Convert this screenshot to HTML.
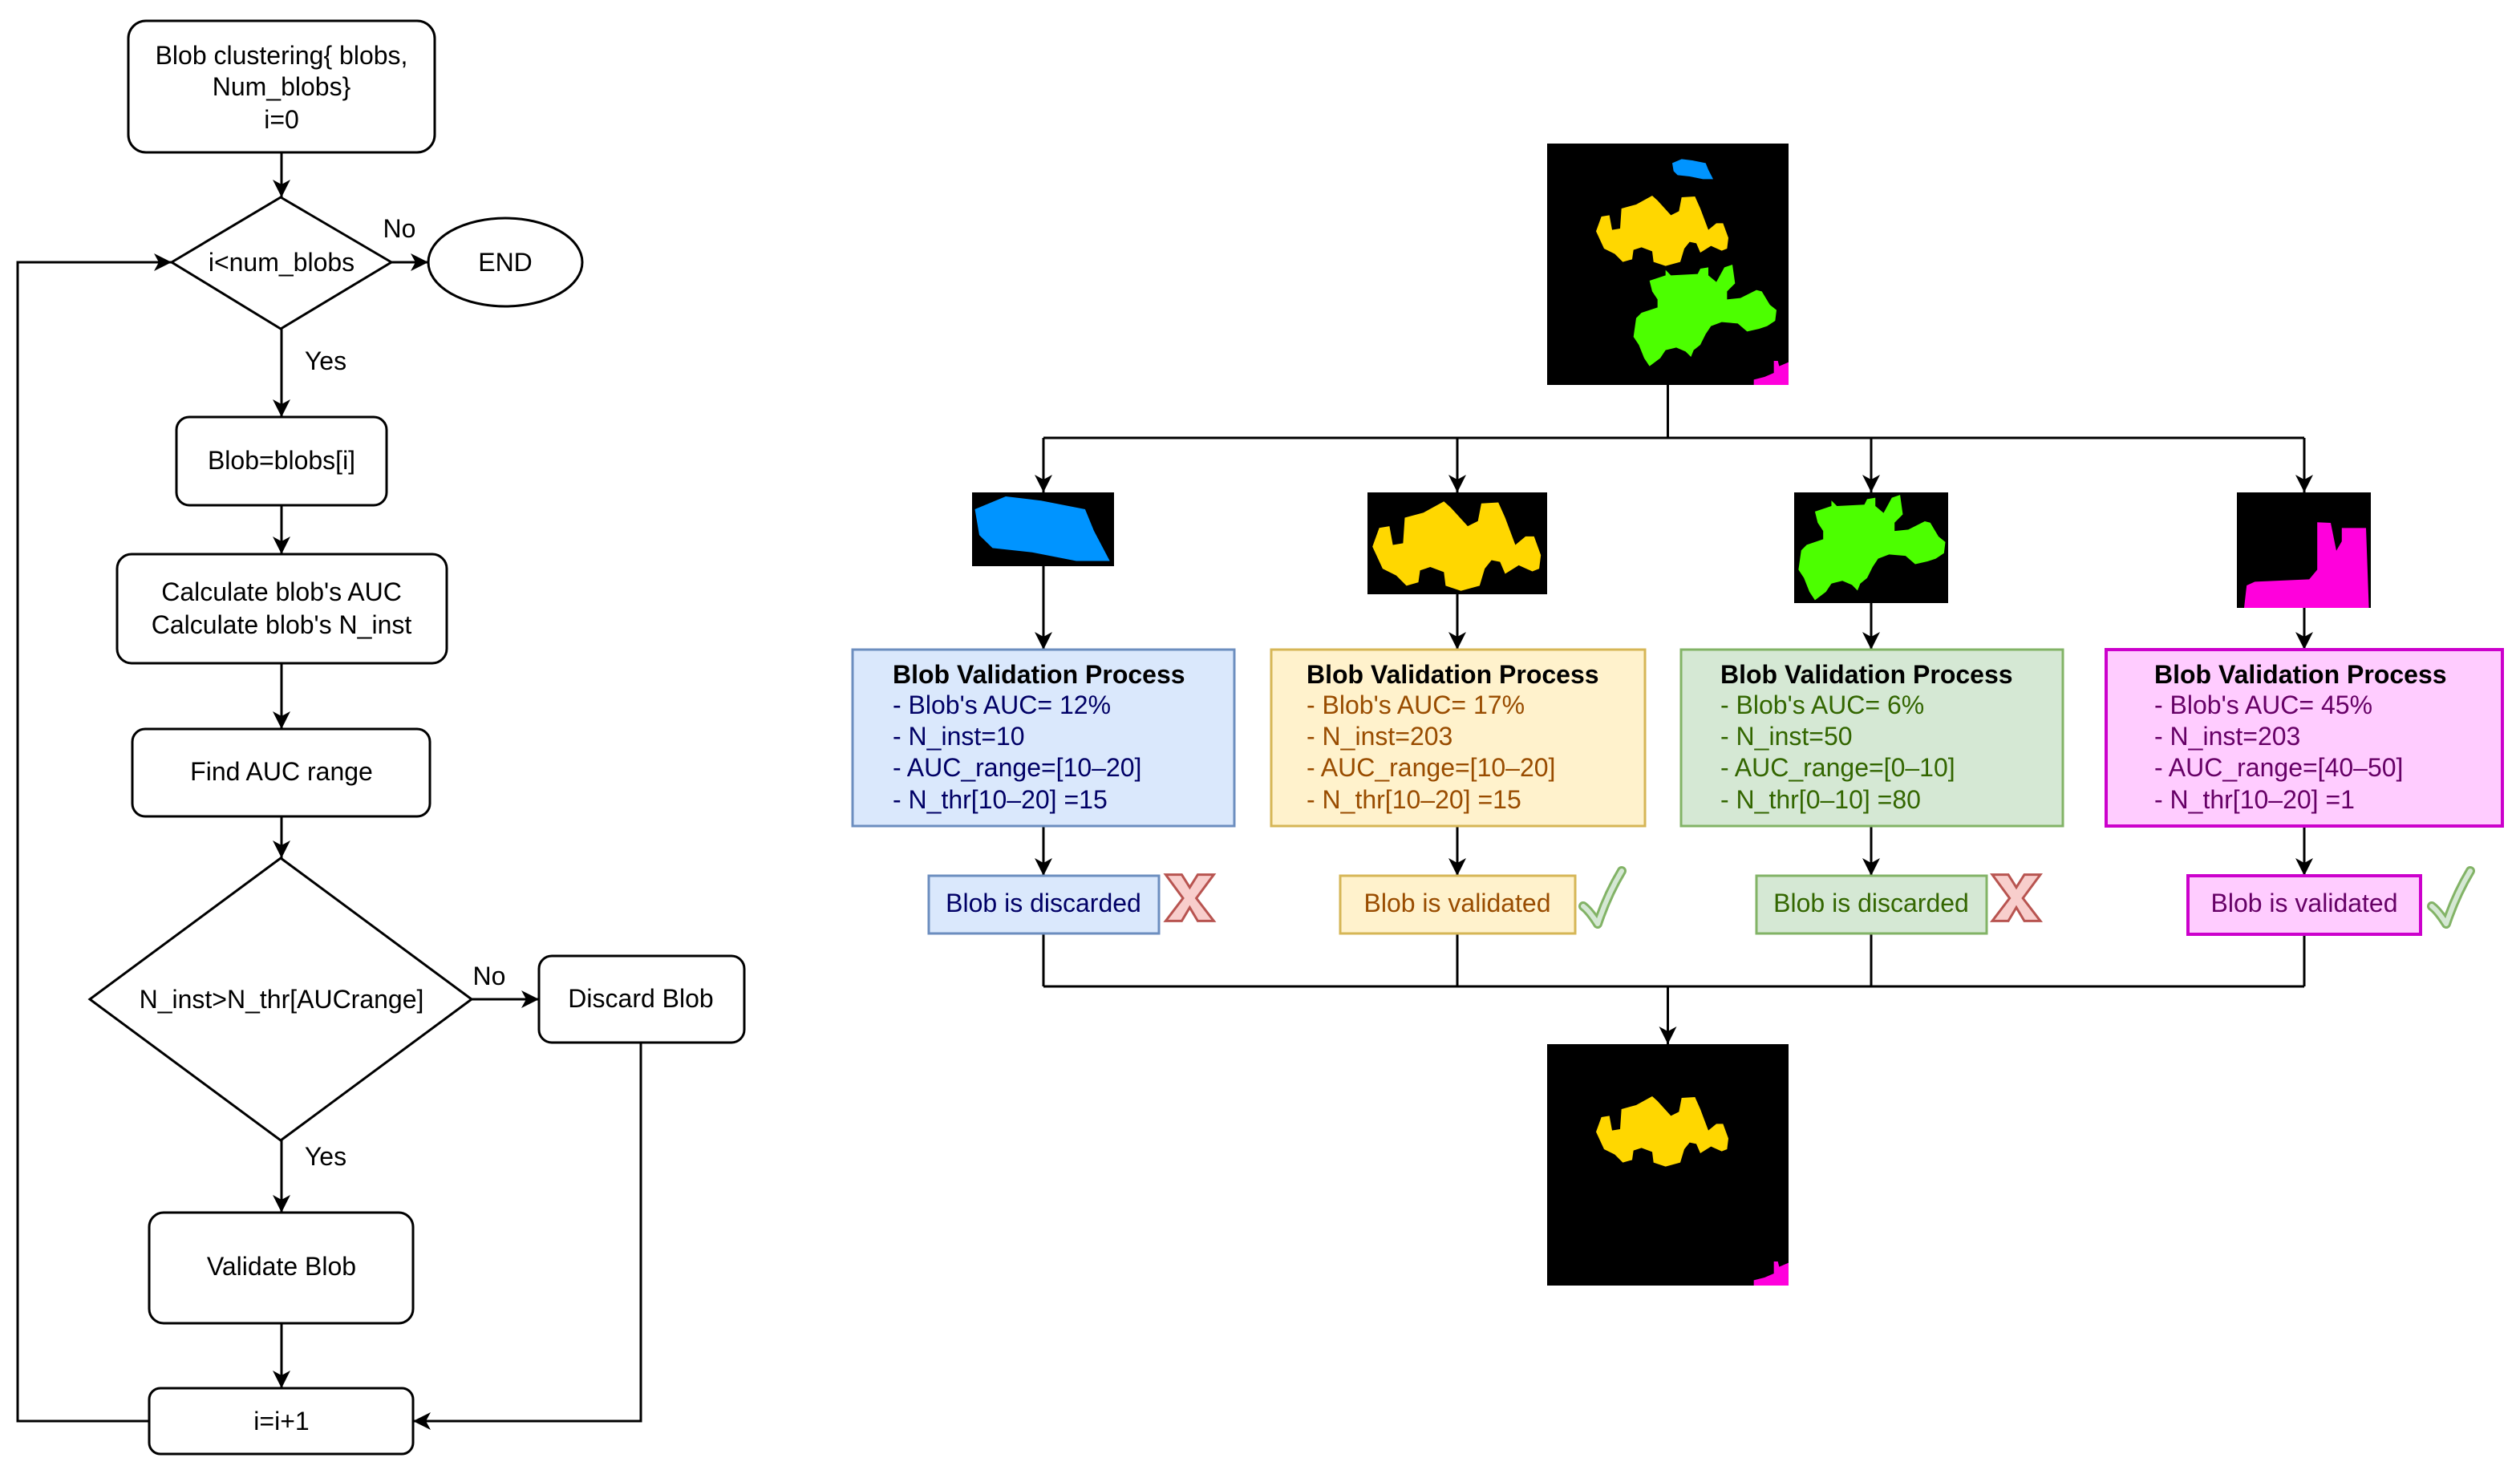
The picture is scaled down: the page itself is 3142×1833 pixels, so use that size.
<!DOCTYPE html>
<html><head><meta charset="utf-8"><style>
html,body{margin:0;padding:0;background:#fff;}
svg{display:block;}
text{font-family:"Liberation Sans",Arial,sans-serif;font-size:16px;}
</style></head><body>
<svg xmlns="http://www.w3.org/2000/svg" width="3142" height="1833" viewBox="0 0 1571 916.5">
<defs>
<marker id="a" markerUnits="userSpaceOnUse" markerWidth="12" markerHeight="12" refX="11" refY="5.5" orient="auto">
<path d="M0,0 L11,5.5 L0,11 L3,5.5 z" fill="#000"/>
</marker>
<polygon id="yel" points="210,355 230,300 260,295 270,350 300,345 305,270 360,255 420,222 440,240 490,295 520,280 530,228 580,225 600,270 630,350 660,325 685,325 705,380 700,420 680,428 640,410 600,435 585,400 560,395 540,420 525,470 470,485 425,470 420,430 380,415 350,425 345,460 310,470 280,440 240,420"/>
<polygon id="grn" points="410,540 470,520 470,500 490,520 590,515 600,495 630,490 630,520 660,545 690,490 720,480 730,550 700,580 700,610 750,605 810,575 830,580 860,630 885,650 880,690 850,710 820,720 775,730 740,700 680,695 640,710 620,740 600,780 575,800 565,825 545,805 510,790 470,800 450,830 410,860 390,830 370,780 350,750 360,680 380,660 440,640 440,610 420,580"/>
<polygon id="blu" points="495,100 530,85 570,90 620,100 630,125 648,160 610,160 560,150 515,145 500,130"/>
<polygon id="mag" points="800,930 800,910 840,900 875,885 875,840 890,840 895,860 930,845 930,930"/>
</defs>
<g fill="none" stroke="#000" stroke-width="1.5">
<rect x="80" y="13" width="191" height="82" rx="11"/>
<polygon points="175,123 244,163.5 175,205 107,163.5" fill="#fff"/>
<ellipse cx="315" cy="163.5" rx="48" ry="27.5"/>
<rect x="110" y="260" width="131" height="55" rx="8"/>
<rect x="73" y="345.5" width="205.5" height="68" rx="9"/>
<rect x="82.5" y="454.5" width="185.5" height="54.5" rx="8"/>
<polygon points="175,535 294,623 175,711 56,623"/>
<rect x="336" y="596" width="128" height="54" rx="8"/>
<rect x="93" y="756" width="164.5" height="69" rx="9"/>
<rect x="93" y="865.5" width="164.5" height="41" rx="7"/>
<line x1="175.5" y1="95" x2="175.5" y2="123" marker-end="url(#a)"/>
<line x1="244" y1="163.5" x2="267" y2="163.5" marker-end="url(#a)"/>
<line x1="175.5" y1="205" x2="175.5" y2="260" marker-end="url(#a)"/>
<line x1="175.5" y1="315" x2="175.5" y2="345.5" marker-end="url(#a)"/>
<line x1="175.5" y1="413.5" x2="175.5" y2="454.5" marker-end="url(#a)"/>
<line x1="175.5" y1="509" x2="175.5" y2="535" marker-end="url(#a)"/>
<line x1="294" y1="623" x2="336" y2="623" marker-end="url(#a)"/>
<line x1="175.5" y1="711" x2="175.5" y2="756" marker-end="url(#a)"/>
<line x1="175.5" y1="825" x2="175.5" y2="865.5" marker-end="url(#a)"/>
<polyline points="399.5,650 399.5,886 257.5,886" marker-end="url(#a)"/>
<polyline points="93,886 11,886 11,163.5 107,163.5" marker-end="url(#a)"/>
<polyline points="1039.75,240 1039.75,273"/>
<line x1="650.5" y1="273" x2="1436.5" y2="273"/>
<line x1="650.5" y1="273" x2="650.5" y2="307" marker-end="url(#a)"/>
<line x1="908.5" y1="273" x2="908.5" y2="307" marker-end="url(#a)"/>
<line x1="1166.5" y1="273" x2="1166.5" y2="307" marker-end="url(#a)"/>
<line x1="1436.5" y1="273" x2="1436.5" y2="307" marker-end="url(#a)"/>
<line x1="650.5" y1="353" x2="650.5" y2="405" marker-end="url(#a)"/>
<line x1="908.5" y1="370.5" x2="908.5" y2="405" marker-end="url(#a)"/>
<line x1="1166.5" y1="376" x2="1166.5" y2="405" marker-end="url(#a)"/>
<line x1="1436.5" y1="379" x2="1436.5" y2="405" marker-end="url(#a)"/>
<line x1="650.5" y1="515" x2="650.5" y2="546" marker-end="url(#a)"/>
<line x1="908.5" y1="515" x2="908.5" y2="546" marker-end="url(#a)"/>
<line x1="1166.5" y1="515" x2="1166.5" y2="546" marker-end="url(#a)"/>
<line x1="1436.5" y1="515" x2="1436.5" y2="546" marker-end="url(#a)"/>
<line x1="650.5" y1="582" x2="650.5" y2="615"/>
<line x1="908.5" y1="582" x2="908.5" y2="615"/>
<line x1="1166.5" y1="582" x2="1166.5" y2="615"/>
<line x1="1436.5" y1="582" x2="1436.5" y2="615"/>
<line x1="650.5" y1="615" x2="1436.5" y2="615"/>
<line x1="1039.75" y1="615" x2="1039.75" y2="651" marker-end="url(#a)"/>
</g>
<g text-anchor="middle" fill="#000">
<text x="175.5" y="40">Blob clustering{ blobs,</text>
<text x="175.5" y="59.5">Num_blobs}</text>
<text x="175.5" y="80">i=0</text>
<text x="175.5" y="169">i&lt;num_blobs</text>
<text x="249" y="148">No</text>
<text x="315" y="169">END</text>
<text x="203" y="230.5">Yes</text>
<text x="175.5" y="292.5">Blob=blobs[i]</text>
<text x="175.5" y="374.5">Calculate blob's AUC</text>
<text x="175.5" y="395">Calculate blob's N_inst</text>
<text x="175.5" y="486.5">Find AUC range</text>
<text x="175.5" y="628.5">N_inst&gt;N_thr[AUCrange]</text>
<text x="305" y="614">No</text>
<text x="399.5" y="628">Discard Blob</text>
<text x="203" y="726.5">Yes</text>
<text x="175.5" y="795">Validate Blob</text>
<text x="175.5" y="891.5">i=i+1</text>
</g>
<rect x="964.5" y="89.5" width="150.5" height="150.5" fill="#000"/>
<g transform="translate(960,85) scale(0.16667)">
<use href="#blu" fill="#0094ff"/><use href="#yel" fill="#ffd700"/><use href="#grn" fill="#4cff00"/><use href="#mag" fill="#ff00dc"/>
</g>
<rect x="964.5" y="651" width="150.5" height="150.5" fill="#000"/>
<g transform="translate(960,646.5) scale(0.16667)">
<use href="#yel" fill="#ffd700"/><use href="#mag" fill="#ff00dc"/>
</g>
<rect x="606" y="307" width="88.5" height="46" fill="#000"/>
<svg x="606" y="307" width="88.5" height="46" viewBox="491.8 80.4 161 85.7" preserveAspectRatio="none"><use href="#blu" fill="#0094ff"/></svg>
<rect x="852.5" y="307" width="112" height="63.5" fill="#000"/>
<svg x="852.5" y="307" width="112" height="63.5" viewBox="195.4 195.6 528 299.5" preserveAspectRatio="none"><use href="#yel" fill="#ffd700"/></svg>
<rect x="1118.5" y="307" width="96" height="69" fill="#000"/>
<svg x="1118.5" y="307" width="96" height="69" viewBox="334.3 470.8 560.8 399.6" preserveAspectRatio="none"><use href="#grn" fill="#4cff00"/></svg>
<rect x="1394.5" y="307" width="83.5" height="72" fill="#000"/>
<polygon points="1399,379 1400.6,365 1405.7,362.7 1439.6,361.2 1444.6,355.2 1444.6,325.6 1453,326 1456.5,343.4 1459.9,337.5 1459.9,329.2 1475,329.2 1476.8,379" fill="#ff00dc"/>
<rect x="531.5" y="405" width="238" height="110" fill="#dae8fc" stroke="#6c8ebf" stroke-width="1.5"/>
<rect x="792.5" y="405" width="233" height="110" fill="#fff2cc" stroke="#d6b656" stroke-width="1.5"/>
<rect x="1048" y="405" width="238" height="110" fill="#d5e8d4" stroke="#82b366" stroke-width="1.5"/>
<rect x="1313" y="405" width="247" height="110" fill="#ffccff" stroke="#cc00cc" stroke-width="2"/>
<g font-weight="bold" fill="#000">
<text x="556.5" y="426" font-weight="bold">Blob Validation Process</text>
<text x="814.5" y="426" font-weight="bold">Blob Validation Process</text>
<text x="1072.5" y="426" font-weight="bold">Blob Validation Process</text>
<text x="1343" y="426" font-weight="bold">Blob Validation Process</text>
</g>
<g fill="#000066">
<text x="556.5" y="445">- Blob's AUC= 12%</text>
<text x="556.5" y="464.5">- N_inst=10</text>
<text x="556.5" y="484">- AUC_range=[10–20]</text>
<text x="556.5" y="504">- N_thr[10–20] =15</text>
</g>
<g fill="#994c00">
<text x="814.5" y="445">- Blob's AUC= 17%</text>
<text x="814.5" y="464.5">- N_inst=203</text>
<text x="814.5" y="484">- AUC_range=[10–20]</text>
<text x="814.5" y="504">- N_thr[10–20] =15</text>
</g>
<g fill="#336600">
<text x="1072.5" y="445">- Blob's AUC= 6%</text>
<text x="1072.5" y="464.5">- N_inst=50</text>
<text x="1072.5" y="484">- AUC_range=[0–10]</text>
<text x="1072.5" y="504">- N_thr[0–10] =80</text>
</g>
<g fill="#660066">
<text x="1343" y="445">- Blob's AUC= 45%</text>
<text x="1343" y="464.5">- N_inst=203</text>
<text x="1343" y="484">- AUC_range=[40–50]</text>
<text x="1343" y="504">- N_thr[10–20] =1</text>
</g>
<rect x="579" y="546" width="143.5" height="36" fill="#dae8fc" stroke="#6c8ebf" stroke-width="1.5"/>
<rect x="835.5" y="546" width="146.5" height="36" fill="#fff2cc" stroke="#d6b656" stroke-width="1.5"/>
<rect x="1095" y="546" width="143.5" height="36" fill="#d5e8d4" stroke="#82b366" stroke-width="1.5"/>
<rect x="1364" y="546" width="145" height="36.5" fill="#ffccff" stroke="#cc00cc" stroke-width="2"/>
<g text-anchor="middle">
<text x="650.5" y="568.5" fill="#000066">Blob is discarded</text>
<text x="908.5" y="568.5" fill="#994c00">Blob is validated</text>
<text x="1166.5" y="568.5" fill="#336600">Blob is discarded</text>
<text x="1436.5" y="568.5" fill="#660066">Blob is validated</text>
</g>
<polygon points="726.7,545.3 736.7,545.3 741.7,553.3 746.7,545.3 756.7,545.3 745.8,560 756.7,574.2 746.7,574.2 741.7,565.8 736.7,574.2 726.7,574.2 737.5,560" fill="#f8cecc" stroke="#b85450" stroke-width="1.5"/>
<g transform="translate(515.3,0)">
<polygon points="726.7,545.3 736.7,545.3 741.7,553.3 746.7,545.3 756.7,545.3 745.8,560 756.7,574.2 746.7,574.2 741.7,565.8 736.7,574.2 726.7,574.2 737.5,560" fill="#f8cecc" stroke="#b85450" stroke-width="1.5"/>
</g>
<g fill="none" stroke-linecap="round" stroke-linejoin="round">
<path d="M987,565 Q991,568 996,576 Q1002,558 1011,543" stroke="#82b366" stroke-width="6"/>
<path d="M987,565 Q991,568 996,576 Q1002,558 1011,543" stroke="#d5e8d4" stroke-width="3"/>
<path d="M1516,565 Q1520,568 1525,576 Q1531,558 1540,543" stroke="#82b366" stroke-width="6"/>
<path d="M1516,565 Q1520,568 1525,576 Q1531,558 1540,543" stroke="#d5e8d4" stroke-width="3"/>
</g>
</svg>
</body></html>
